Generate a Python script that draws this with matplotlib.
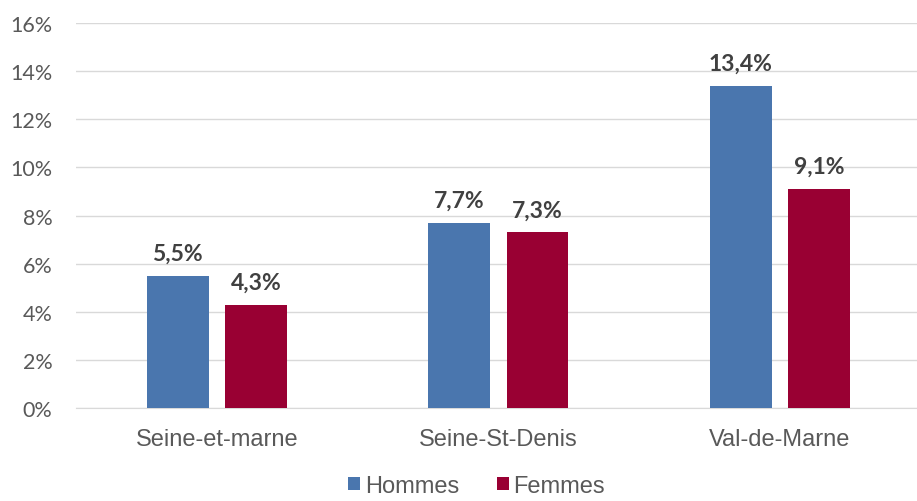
import numpy as np
import matplotlib
matplotlib.use('Agg')
import matplotlib.pyplot as plt
from matplotlib.ticker import FuncFormatter

categories = ['Seine-et-marne', 'Seine-St-Denis', 'Val-de-Marne']
hommes = [5.5, 7.7, 13.4]
femmes = [4.3, 7.3, 9.1]
series_names = ['Hommes', 'Femmes']

col_h = '#4A76AE'
col_f = '#990033'
grey = '#595959'

fig = plt.figure(figsize=(9.17, 5.02), dpi=100)
ax = fig.add_axes([0.083, 0.185, 0.921, 0.767])

x = np.arange(len(categories))
w = 0.22
off = 0.139
b1 = ax.bar(x - off, hommes, w, color=col_h, label=series_names[0], zorder=3)
b2 = ax.bar(x + off, femmes, w, color=col_f, label=series_names[1], zorder=3)

for bars, vals in [(b1, hommes), (b2, femmes)]:
    for b, v in zip(bars, vals):
        ax.text(b.get_x() + b.get_width() / 2, v + 0.5, ('%.1f%%' % v).replace('.', ','),
                ha='center', va='bottom', fontsize=16.5, fontweight='bold',
                color='#404040', family='Lato')

ax.set_xlim(-0.5, 2.5)
ax.set_ylim(0, 16)
ax.set_yticks(np.arange(0, 17, 2))
ax.yaxis.set_major_formatter(FuncFormatter(lambda v, p: '%d%%' % v))
ax.grid(axis='y', color='#D9D9D9', linewidth=1, zorder=0)
ax.set_xticks(x)
ax.set_xticklabels(categories, fontsize=17, color=grey, family='Liberation Sans')
for lab in ax.get_yticklabels():
    lab.set_family('Lato')
    lab.set_fontsize(15.5)
    lab.set_color(grey)
ax.tick_params(axis='both', length=0)
ax.tick_params(axis='y', pad=17)
ax.tick_params(axis='x', pad=14)
for s in ['top', 'right', 'left']:
    ax.spines[s].set_visible(False)
ax.spines['bottom'].set_color('#D9D9D9')

leg = fig.legend(loc='center', bbox_to_anchor=(0.52, 0.03), ncol=2, frameon=False,
                 prop={'family': 'Liberation Sans', 'size': 17},
                 handlelength=0.5, handleheight=0.5, handletextpad=0.2, columnspacing=1.6,
                 borderpad=0.1)
for t in leg.get_texts():
    t.set_color(grey)

fig.savefig('out.png', dpi=100)
